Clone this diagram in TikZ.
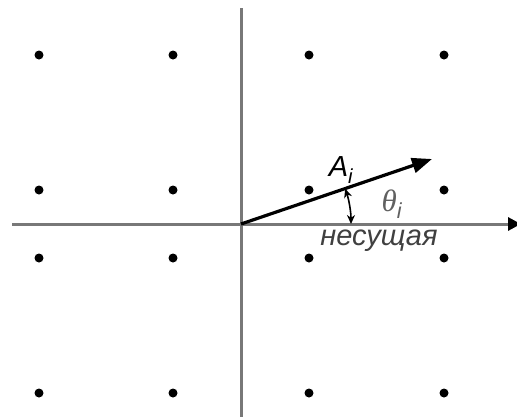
\documentclass[tikz,border=0pt]{standalone}
\usepackage{fontspec}
\setsansfont{Liberation Sans}
\newfontfamily\thetafont{Liberation Serif}
\usetikzlibrary{arrows.meta}
\definecolor{axisgray}{HTML}{787878}
\definecolor{labelgray}{HTML}{404040}
\definecolor{thetagray}{HTML}{606060}
\begin{document}
\begin{tikzpicture}[x=1pt,y=-1pt,
  axisline/.style={draw=axisgray,line width=3pt},
  vec/.style={draw=black,line width=3.2pt,-{Triangle[length=20pt,width=15pt]}},
  dotpt/.style={circle,fill=black,inner sep=0pt,minimum size=9pt},
  lbl/.style={font=\sffamily\itshape\fontsize{29}{33}\selectfont,text=labelgray,inner sep=0pt}]
\useasboundingbox (0,0) rectangle (517,416);
\coordinate (O) at (241,224);
\coordinate (xl) at (12,224);
\coordinate (xr) at (521,224);
\coordinate (yt) at (241,8);
\coordinate (yb) at (241,418);
\coordinate (tip) at (432,159);
\draw[axisline] (yt) -- (yb);
\draw[axisline,-{Triangle[length=13pt,width=13pt,fill=black,color=black]}] (xl) -- (xr);
\foreach \i/\x in {1/39,2/173,3/309,4/444}{
  \foreach \j/\y in {1/55,2/190,3/258,4/393}{
    \node[dotpt] (d\i\j) at (\x,\y) {};
  }
}
\draw[vec] (O) -- (tip);
\draw[black,line width=1.6pt,{Stealth[length=9pt,width=8pt]}-{Stealth[length=9pt,width=8pt]}]
  ([shift={(-18.7:110)}]O) arc[start angle=-18.7,end angle=0,radius=110];
\node[lbl,text=black] (A) at (341,170) {A\textsubscript{i}};
\node[inner sep=0pt,text=thetagray] (th) at (392,204) {\fontsize{31}{35}\selectfont\thetafont\itshape θ\textsubscript{\sffamily\itshape i}};
\node[lbl] (car) at (379,241) {несущая};
\end{tikzpicture}
\end{document}
